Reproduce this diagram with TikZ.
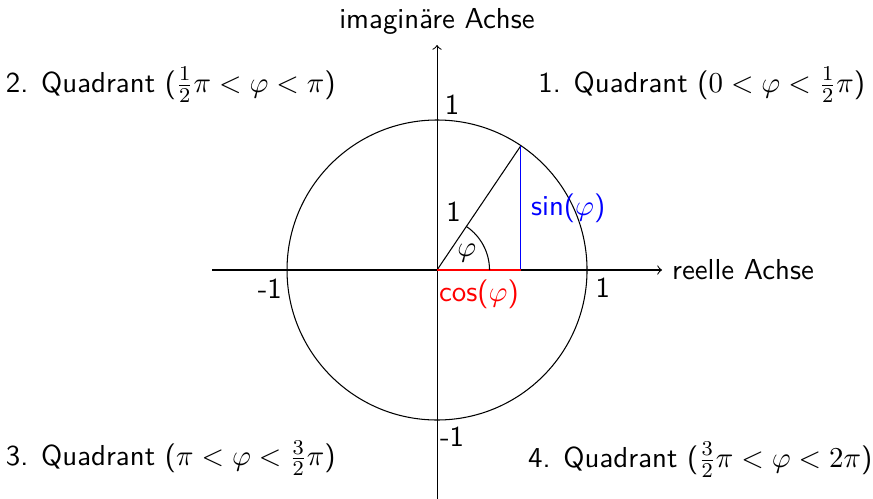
\documentclass[tikz,border=0pt,11pt]{standalone}
\usetikzlibrary{calc}
\begin{document}
\begin{tikzpicture}[
  every node/.style={font=\sffamily},
  axis/.style={->},
  sinline/.style={blue},
  cosline/.style={red}
]
  \useasboundingbox (-5.827,-3.053) rectangle (5.813,3.6);

  % Achsen
  \coordinate (O)  at (0,0);
  \coordinate (xl) at (-3,0);
  \coordinate (xr) at (3,0);
  \coordinate (yb) at (0,-3.05);
  \coordinate (yt) at (0,3);
  \draw[axis] (xl) -- (xr) node[right] (re) {reelle Achse};
  \draw[axis] (yb) -- (yt) node[above] (im) {imaginäre Achse};

  % Einheitskreis
  \draw (O) circle (2);
  \coordinate (P) at (56:2);
  \coordinate (Q) at (P |- O);
  \draw (O) -- (P);
  \draw[sinline] (Q) -- node[right] (sin) {sin($\varphi$)} (P);
  \draw[cosline] (O) -- node[below] (cos) {cos($\varphi$)} (Q);
  \draw (0.7,0) arc (0:56:0.7);
  \node (phi) at (30:0.46) {$\varphi$};
  \node (r)   at (0.22,0.78) {1};

  % Beschriftung
  \node (ytop) at (0.2,2.2)    {1};
  \node (ybot) at (0.2,-2.22)  {-1};
  \node (xrt)  at (2.21,-0.24) {1};
  \node (xlf)  at (-2.23,-0.25){-1};

  \node (q1) at (3.53,2.47)   {1. Quadrant ($0<\varphi<\frac{1}{2}\pi$)};
  \node (q2) at (-3.55,2.47)  {2. Quadrant ($\frac{1}{2}\pi<\varphi<\pi$)};
  \node (q3) at (-3.55,-2.51) {3. Quadrant ($\pi<\varphi<\frac{3}{2}\pi$)};
  \node (q4) at (3.51,-2.53)  {4. Quadrant ($\frac{3}{2}\pi<\varphi<2\pi$)};
\end{tikzpicture}
\end{document}
